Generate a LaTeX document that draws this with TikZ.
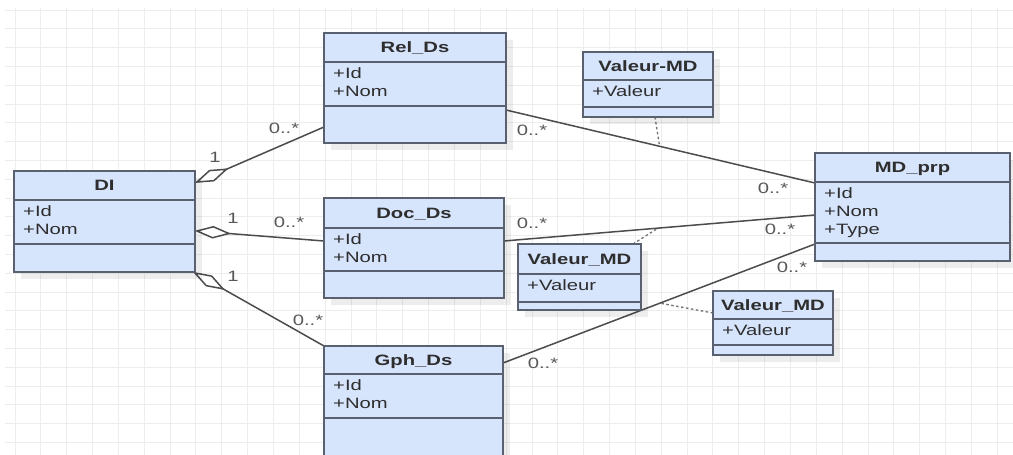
\documentclass[tikz,border=0pt]{standalone}
\usepackage{fontspec}
\usetikzlibrary{calc}
\newfontfamily\umlfont{Liberation Sans}[FakeStretch=1.35]

\definecolor{boxfill}{HTML}{D6E4FC}
\definecolor{boxline}{HTML}{596070}
\definecolor{txt}{HTML}{2E2E2E}
\definecolor{wire}{HTML}{4C4C4C}
\definecolor{gridc}{HTML}{EDEDED}

\tikzset{
  classbox/.style={draw=boxline, fill=boxfill, line width=1.6pt, inner sep=0pt, outer sep=0pt},
  sepline/.style={draw=boxline, line width=1.6pt},
  boxshadow/.style={fill=black, opacity=0.07},
  umltitle/.style={font=\umlfont\bfseries\fontsize{15}{18}\selectfont, text=txt, inner sep=0pt, anchor=base},
  umlattr/.style={font=\umlfont\fontsize{15}{18}\selectfont, text=txt, inner sep=0pt, anchor=base west},
  mult/.style={font=\umlfont\fontsize{15}{18}\selectfont, text=txt!80, inner sep=0pt},
  assoc/.style={draw=wire, line width=1.5pt},
  diamondtip/.style={draw=wire, fill=white, line width=1.5pt, line join=miter},
  anchorline/.style={draw=wire!80, line width=1.3pt, dash pattern=on 2.5pt off 2.5pt},
}

% \umlclass{name}{left}{top}{right}{sep1}{sep2}{bottom}{title}{attributes}
\newcommand\umlclass[9]{%
  \fill[boxshadow] (#2+7,#3+7) rectangle (#4+7,#7+7);
  \node[classbox, anchor=north west, minimum width={(#4-#2)*1pt}, minimum height={(#7-#3)*1pt}] (#1) at (#2,#3) {};
  \draw[sepline] (#2,#5) -- (#4,#5);
  \draw[sepline] (#2,#6) -- (#4,#6);
  \node[umltitle] (#1-title) at ({(#2+#4)/2},{(#3+#5)/2+5.4}) {#8};
  \foreach \a [count=\i] in {#9} {
    \node[umlattr] (#1-attr\i) at (#2+9,{#5+11.5+5.4+(\i-1)*18}) {\a};
  }%
}

% aggregation: line from #1 to #2 with a hollow diamond at #1
\newcommand\aggregation[2]{%
  \draw[assoc] (#1) -- (#2);
  \filldraw[diamondtip] (#1)
    -- ($(#1)!16pt!(#2)!5.5pt!90:(#2)$)
    -- ($(#1)!32pt!(#2)$)
    -- ($(#1)!16pt!(#2)!5.5pt!-90:(#2)$) -- cycle;
}

\begin{document}
\begin{tikzpicture}[x={(1pt,0pt)}, y={(0pt,-1pt)}]
  \useasboundingbox (0,0) rectangle (1013,455);
  \clip (0,0) rectangle (1013,455);
  \fill[white] (0,0) rectangle (1013,455);

  % background grid
  \foreach \k in {0,...,38} \draw[gridc, line width=1pt] ({15+25.85*\k},8) -- ({15+25.85*\k},455);
  \foreach \k in {0,...,23} \draw[gridc, line width=1pt] (5,{10+18.8*\k}) -- (1013,{10+18.8*\k});

  % connector end points on the class borders
  \coordinate (di-r) at (197,182);
  \coordinate (di-d) at (197,231);
  \coordinate (di-g) at (195,273);
  \coordinate (rel-l) at (324,127);
  \coordinate (rel-r) at (506,110);
  \coordinate (doc-l) at (324,241);
  \coordinate (doc-r) at (504,241);
  \coordinate (gph-l) at (324,346);
  \coordinate (gph-r) at (503,363);
  \coordinate (md-r) at (815,183);
  \coordinate (md-d) at (815,215);
  \coordinate (md-g) at (815,244);

  % aggregations from DI
  \aggregation{di-r}{rel-l}
  \aggregation{di-d}{doc-l}
  \aggregation{di-g}{gph-l}

  % associations to MD_prp
  \draw[assoc] (rel-r) -- (md-r) coordinate[pos=0.497] (mid-r);
  \draw[assoc] (doc-r) -- (md-d) coordinate[pos=0.495] (mid-d);
  \draw[assoc] (gph-r) -- (md-g) coordinate[pos=0.503] (mid-g);

  % association class anchors
  \coordinate (v1-b) at (655,117);
  \coordinate (v2-t) at (633,244);
  \coordinate (v3-l) at (713,313);
  \draw[anchorline] (v1-b) -- (mid-r);
  \draw[anchorline] (v2-t) -- (mid-d);
  \draw[anchorline] (v3-l) -- (mid-g);

  % classes
  \umlclass{DI}{14}{171}{195}{200}{244}{272}{DI}{+Id,+Nom}
  \umlclass{Rel}{324}{33}{506}{62}{106}{143}{Rel\_Ds}{+Id,+Nom}
  \umlclass{Doc}{324}{198}{504}{228}{271}{298}{Doc\_Ds}{+Id,+Nom}
  \umlclass{Gph}{324}{346}{503}{374}{418}{462}{Gph\_Ds}{+Id,+Nom}
  \umlclass{MD}{815}{153}{1010}{182}{243}{261}{MD\_prp}{+Id,+Nom,+Type}
  \umlclass{ValA}{583}{52}{713}{80}{107}{117}{Valeur-MD}{+Valeur}
  \umlclass{ValB}{518}{244}{641}{274}{302}{310}{Valeur\_MD}{+Valeur}
  \umlclass{ValC}{713}{291}{833}{319}{345}{355}{Valeur\_MD}{+Valeur}

  % multiplicities
  \node[mult] (m1) at (215,157) {1};
  \node[mult] (m2) at (284,128) {0..*};
  \node[mult] (m3) at (233,218) {1};
  \node[mult] (m4) at (289,222) {0..*};
  \node[mult] (m5) at (233,276) {1};
  \node[mult] (m6) at (308,320) {0..*};
  \node[mult] (m7) at (532,130) {0..*};
  \node[mult] (m8) at (532,223) {0..*};
  \node[mult] (m9) at (543,363) {0..*};
  \node[mult] (m10) at (773,188) {0..*};
  \node[mult] (m11) at (780,229) {0..*};
  \node[mult] (m12) at (792,267) {0..*};
\end{tikzpicture}
\end{document}
